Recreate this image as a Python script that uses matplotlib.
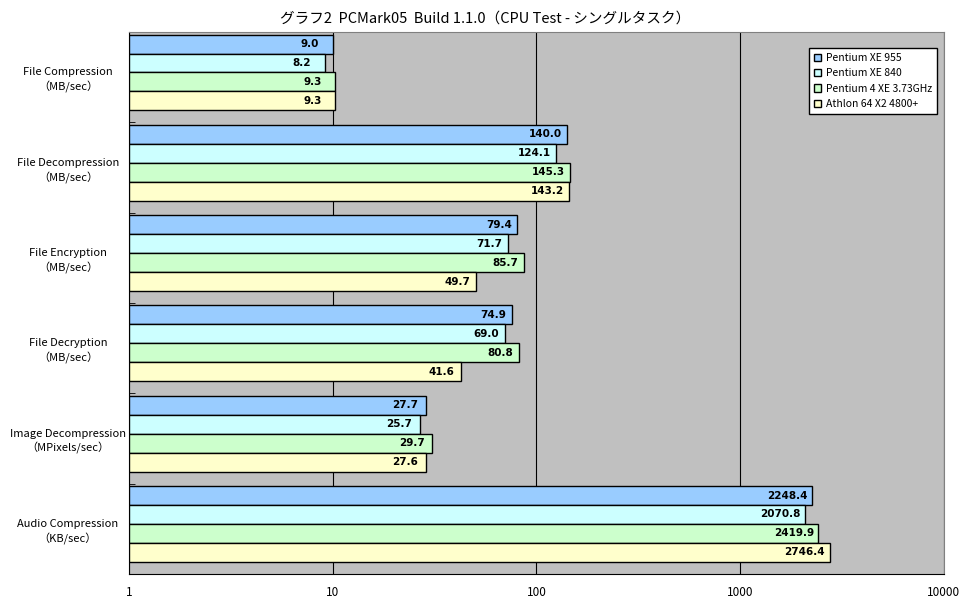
import numpy as np
import matplotlib
matplotlib.use('Agg')
import matplotlib.pyplot as plt

plt.rcParams['font.family'] = ['Noto Sans CJK JP', 'DejaVu Sans']

# data
categories = ['File Compression\n（MB/sec）', 'File Decompression\n（MB/sec）',
              'File Encryption\n（MB/sec）', 'File Decryption\n（MB/sec）',
              'Image Decompression\n（MPixels/sec）', 'Audio Compression\n（KB/sec）']
series_names = ['Pentium XE 955', 'Pentium XE 840', 'Pentium 4 XE 3.73GHz', 'Athlon 64 X2 4800+']
xe955 = [9.0, 140.0, 79.4, 74.9, 27.7, 2248.4]
xe840 = [8.2, 124.1, 71.7, 69.0, 25.7, 2070.8]
p4xe = [9.3, 145.3, 85.7, 80.8, 29.7, 2419.9]
athlon = [9.3, 143.2, 49.7, 41.6, 27.6, 2746.4]
colors = ['#99CCFF', '#CCFFFF', '#CCFFCC', '#FFFFCC']
xticks = [1, 10, 100, 1000, 10000]

fig = plt.figure(figsize=(9.7, 6.04), dpi=100)
ax = fig.add_axes([0.133, 0.05, 0.84, 0.897])
ax.set_facecolor('#C0C0C0')

n = len(categories)
bh = 0.21
shift = -0.052
ypos = np.arange(n)
for i, (vals, c, name) in enumerate(zip([xe955, xe840, p4xe, athlon], colors, series_names)):
    y = ypos + shift + (i - 1.5) * bh
    bars = ax.barh(y, vals, height=bh, left=1, color=c, edgecolor='black', linewidth=1, label=name, zorder=3)
    for b, v in zip(bars, vals):
        ax.text(v / 1.05, b.get_y() + bh / 2, '%.1f' % v, ha='right', va='center',
                fontsize=7.5, fontweight='bold', family='DejaVu Sans', zorder=4)

ax.set_xscale('log')
ax.set_xlim(1, 10000)
ax.set_ylim(n - 0.5, -0.5)
ax.set_xticks(xticks)
ax.set_xticklabels([str(t) for t in xticks], fontsize=8.5)
ax.minorticks_off()
ax.tick_params(axis='x', length=0, pad=9)
ax.set_yticks(ypos)
ax.set_yticklabels(categories, fontsize=8, ha='center', linespacing=1.4)
ax.tick_params(axis='y', length=0, pad=44)
ax.set_yticks(np.arange(n + 1) - 0.5, minor=True)
ax.tick_params(axis='y', which='minor', direction='in', length=4)
ax.grid(axis='x', which='major', color='black', linewidth=0.8, zorder=1)
for s in ax.spines.values():
    s.set_color('#808080')
ax.spines['left'].set_color('black')
ax.spines['bottom'].set_color('black')

leg = ax.legend(loc='upper right', bbox_to_anchor=(0.998, 0.98), fontsize=7.5, fancybox=False,
                framealpha=1, edgecolor='black', handlelength=0.7, handleheight=0.7,
                handletextpad=0.4, borderpad=0.5, labelspacing=0.5)
leg.get_frame().set_linewidth(1)
leg.set_zorder(5)

fig.suptitle('グラフ2  PCMark05  Build 1.1.0（CPU Test - シングルタスク）', fontsize=10.5, y=0.98)

fig.savefig('out.png', dpi=100)
